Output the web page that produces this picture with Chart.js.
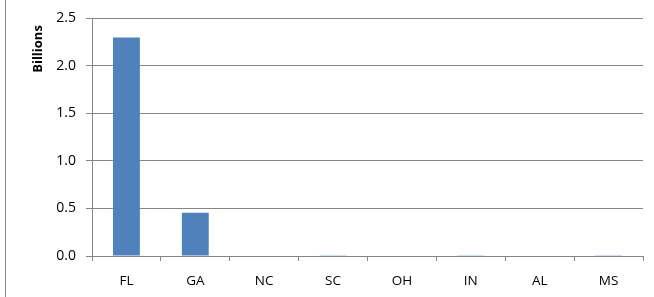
<!DOCTYPE html>
<html>
<head>
<meta charset="utf-8">
<script src="https://cdn.jsdelivr.net/npm/chart.js@4"></script>
<style>
  html, body { margin: 0; padding: 0; background: #fff; }
  #wrap { position: relative; width: 654px; height: 297px; }
  #frame { position: absolute; left: 5px; top: 0; width: 1px; height: 297px; background: #868686; }
</style>
</head>
<body>
<div id="wrap">
  <canvas id="myChart" width="654" height="297"></canvas>
  <div id="frame"></div>
</div>
<script>
const labels = ["FL", "GA", "NC", "SC", "OH", "IN", "AL", "MS"];
const billions = [2.3, 0.455, 0.004, 0.003, 0.004, 0.003, 0.004, 0.003];
const yTicks = [0, 0.5, 1.0, 1.5, 2.0, 2.5];

const font = "'Open Sans', 'Noto Sans', sans-serif";

const config = {
  type: "bar",
  data: {
    labels: labels,
    datasets: [
      {
        label: "Billions",
        backgroundColor: "#4F81BD",
        borderWidth: 0,
        data: billions,
        barPercentage: 0.78,
        categoryPercentage: 0.5,
      },
    ],
  },
  options: {
    responsive: false,
    animation: false,
    layout: { padding: { left: 10, right: 11, top: 15, bottom: 0 } },
    plugins: {
      legend: { display: false },
      tooltip: { enabled: false },
    },
    scales: {
      x: {
        grid: {
          offset: true,
          drawOnChartArea: false,
          drawTicks: true,
          tickLength: 5,
          color: "#868686",
        },
        border: { color: "#868686", width: 1 },
        ticks: {
          color: "#000",
          padding: 12,
          font: { family: font, size: 13.5 },
        },
        afterFit: (scale) => {
          scale.height = 41;
        },
      },
      y: {
        min: 0,
        max: 2.5,
        afterBuildTicks: (scale) => {
          scale.ticks = yTicks.map((v) => ({ value: v }));
        },
        afterFit: (scale) => {
          scale.width = 82;
        },
        grid: {
          color: "#868686",
          tickLength: 6,
        },
        border: { color: "#868686", width: 1 },
        ticks: {
          color: "#000",
          padding: 10,
          font: { family: font, size: 14 },
          callback: (v) => Number(v).toFixed(1),
        },
        title: {
          display: true,
          text: "Billions  ",
          align: "end",
          color: "#000",
          padding: { top: 20, bottom: 0 },
          font: { family: font, size: 13, weight: "bold" },
        },
      },
    },
  },
};
const myChart = new Chart(document.getElementById("myChart"), config);
</script>
</body>
</html>
